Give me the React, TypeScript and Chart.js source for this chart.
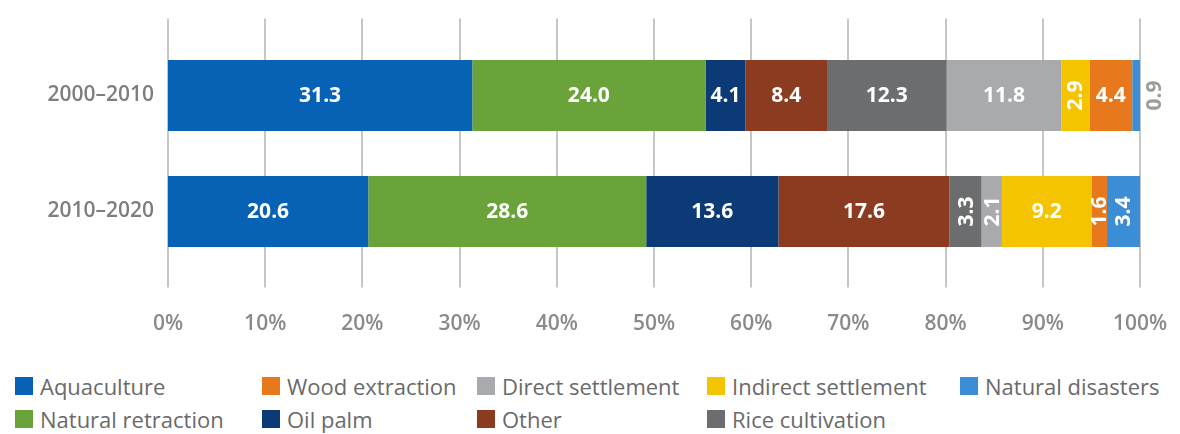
import React, { useEffect, useRef } from "react";
import { Chart, registerables } from "chart.js";

Chart.register(...registerables);

const categories = ["2000–2010", "2010–2020"];

const seriesNames = [
  "Aquaculture",
  "Natural retraction",
  "Oil palm",
  "Other",
  "Rice cultivation",
  "Direct settlement",
  "Indirect settlement",
  "Wood extraction",
  "Natural disasters",
];

const aquaculture = [31.3, 20.6];
const naturalRetraction = [24.0, 28.6];
const oilPalm = [4.1, 13.6];
const other = [8.4, 17.6];
const riceCultivation = [12.3, 3.3];
const directSettlement = [11.8, 2.1];
const indirectSettlement = [2.9, 9.2];
const woodExtraction = [4.4, 1.6];
const naturalDisasters = [0.9, 3.4];

const seriesValues = [
  aquaculture,
  naturalRetraction,
  oilPalm,
  other,
  riceCultivation,
  directSettlement,
  indirectSettlement,
  woodExtraction,
  naturalDisasters,
];

const seriesColors = [
  "#0762b6",
  "#6aa33a",
  "#0b3a76",
  "#8b3b1f",
  "#6c6d6f",
  "#a8aaad",
  "#f5c400",
  "#e8781c",
  "#3b8ed6",
];

const tickValues = [0, 10, 20, 30, 40, 50, 60, 70, 80, 90, 100];

const legendRows = [
  ["Aquaculture", "Wood extraction", "Direct settlement", "Indirect settlement", "Natural disasters"],
  ["Natural retraction", "Oil palm", "Other", "Rice cultivation"],
];

const legendColumnWidths = [247, 215, 230, 253, 220];

const FONT = '"Open Sans", "Noto Sans", sans-serif';

const extGridPlugin = {
  id: "extGrid",
  beforeDatasetsDraw(chart: any) {
    const { ctx, chartArea, scales } = chart;
    const x = scales.x;
    ctx.save();
    ctx.strokeStyle = "#c6c6c6";
    ctx.lineWidth = 2;
    x.ticks.forEach((t: any) => {
      const px = Math.round(x.getPixelForValue(t.value));
      ctx.beginPath();
      ctx.moveTo(px, chartArea.top - 19);
      ctx.lineTo(px, chartArea.bottom + 18);
      ctx.stroke();
    });
    ctx.restore();
  },
};

const barLabelPlugin = {
  id: "barLabels",
  afterDatasetsDraw(chart: any) {
    const { ctx } = chart;
    ctx.save();
    ctx.font = `bold 21px ${FONT}`;
    ctx.textAlign = "center";
    ctx.textBaseline = "middle";
    chart.data.datasets.forEach((ds: any, di: number) => {
      const meta = chart.getDatasetMeta(di);
      meta.data.forEach((el: any, i: number) => {
        const v = ds.data[i];
        const { x, y, base } = el.getProps(["x", "y", "base"], true);
        const text = v.toFixed(1);
        if (v < 1) {
          ctx.fillStyle = "#9c9c9c";
          ctx.save();
          ctx.translate(x + 13, y);
          ctx.rotate(-Math.PI / 2);
          ctx.fillText(text, 0, 1);
          ctx.restore();
        } else if (v < 4) {
          ctx.fillStyle = "#ffffff";
          ctx.save();
          ctx.translate((x + base) / 2, y);
          ctx.rotate(-Math.PI / 2);
          ctx.fillText(text, 0, 1);
          ctx.restore();
        } else {
          ctx.fillStyle = "#ffffff";
          ctx.fillText(text, (x + base) / 2, y + 1);
        }
      });
    });
    ctx.restore();
  },
};

const CANVAS_H = 345;

export default function App() {
  const canvasRef = useRef<HTMLCanvasElement>(null);

  useEffect(() => {
    if (!canvasRef.current) return;
    const chart = new Chart(canvasRef.current, {
      type: "bar",
      data: {
        labels: categories,
        datasets: seriesNames.map((name, i) => ({
          label: name,
          data: seriesValues[i],
          backgroundColor: seriesColors[i],
          borderWidth: 0,
          categoryPercentage: 1,
          barPercentage: 0.61,
        })),
      },
      options: {
        indexAxis: "y",
        animation: false,
        responsive: false,
        maintainAspectRatio: false,
        layout: { padding: { top: 37.5, right: 40, left: 0, bottom: 0 } },
        plugins: {
          legend: { display: false },
          tooltip: { enabled: false },
        },
        scales: {
          x: {
            stacked: true,
            min: 0,
            max: 100,
            afterBuildTicks: (scale: any) => {
              scale.ticks = tickValues.map((v) => ({ value: v }));
            },
            afterFit: (scale: any) => {
              scale.height = CANVAS_H - 269.5;
              scale.paddingLeft = 0;
              scale.paddingRight = 0;
            },
            grid: { display: false, drawTicks: false },
            border: { display: false },
            ticks: {
              padding: 42,
              color: "#8a8a8a",
              font: { family: FONT, size: 21, weight: "600" },
              callback: (v: any) => `${v}%`,
            },
          },
          y: {
            stacked: true,
            afterFit: (scale: any) => {
              scale.width = 168;
            },
            grid: { display: false },
            border: { display: false },
            ticks: {
              padding: 6,
              color: "#7e7e7e",
              font: { family: FONT, size: 21, weight: "600" },
            },
          },
        },
      },
      plugins: [extGridPlugin, barLabelPlugin],
    });
    return () => chart.destroy();
  }, []);

  const colorOf = (name: string) => seriesColors[seriesNames.indexOf(name)];

  return (
    <div style={{ position: "relative", width: 1180, height: 434, background: "#fff", overflow: "hidden" }}>
      <style>{`body{margin:0;}`}</style>
      <canvas ref={canvasRef} width={1180} height={CANVAS_H} style={{ display: "block", width: 1180, height: CANVAS_H }} />
      <div style={{ position: "absolute", left: 15, top: 369, fontFamily: FONT, fontSize: 22, color: "#6a6a6a" }}>
        {legendRows.map((row, ri) => (
          <div key={ri} style={{ display: "flex", height: 33, alignItems: "center" }}>
            {row.map((name, ci) => (
              <div key={name} style={{ width: legendColumnWidths[ci], display: "flex", alignItems: "center", whiteSpace: "nowrap" }}>
                <span style={{ display: "inline-block", width: 18, height: 18, background: colorOf(name), marginRight: 7, flex: "none" }} />
                <span>{name}</span>
              </div>
            ))}
          </div>
        ))}
      </div>
    </div>
  );
}
